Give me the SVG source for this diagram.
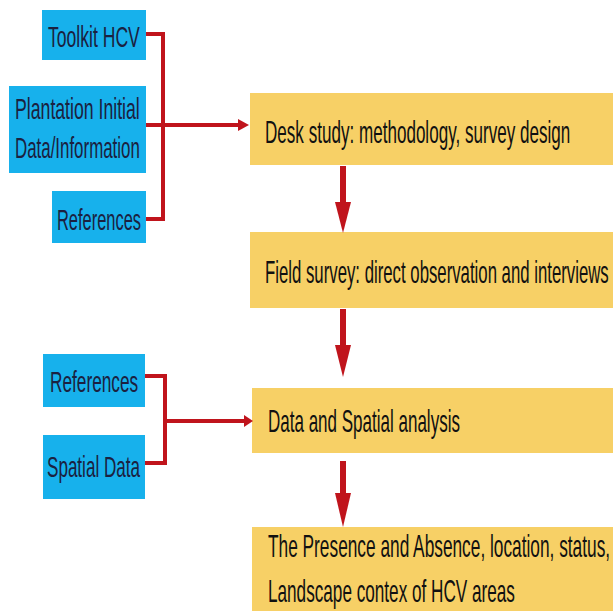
<svg xmlns="http://www.w3.org/2000/svg" width="613" height="611" viewBox="0 0 613 611">
<style>
.in{fill:#17b1ec}
.st{fill:#f7d066}
.tb{font-family:"Liberation Sans",Arial,sans-serif;font-size:29px;fill:#1b2140}
.ty{font-family:"Liberation Sans",Arial,sans-serif;font-size:31px;fill:#111}
.c{fill:none;stroke:#c0141c;stroke-width:4}
.d{fill:none;stroke:#c0141c;stroke-width:6}
.h{fill:#c0141c}
</style>
<rect width="613" height="611" fill="#ffffff"/>
<g id="toolkit"><rect class="in" x="42" y="10" width="104" height="50"/><g transform="translate(48,47) scale(0.6,1)"><text class="tb" x="0" y="0" textLength="153" lengthAdjust="spacingAndGlyphs">Toolkit HCV</text></g></g>
<g id="plantation"><rect class="in" x="9" y="86" width="137" height="87"/><g transform="translate(15,119) scale(0.6,1)"><text class="tb" x="0" y="0" textLength="208" lengthAdjust="spacingAndGlyphs">Plantation Initial</text></g><g transform="translate(15,158) scale(0.6,1)"><text class="tb" x="0" y="0" textLength="208" lengthAdjust="spacingAndGlyphs">Data/Information</text></g></g>
<g id="references1"><rect class="in" x="52" y="191" width="94" height="52"/><g transform="translate(57,230) scale(0.6,1)"><text class="tb" x="0" y="0" textLength="140" lengthAdjust="spacingAndGlyphs">References</text></g></g>
<g id="references2"><rect class="in" x="43" y="354" width="102" height="53"/><g transform="translate(50,392) scale(0.6,1)"><text class="tb" x="0" y="0" textLength="147" lengthAdjust="spacingAndGlyphs">References</text></g></g>
<g id="spatial"><rect class="in" x="43" y="435" width="102" height="64"/><g transform="translate(47,477) scale(0.6,1)"><text class="tb" x="0" y="0" textLength="155" lengthAdjust="spacingAndGlyphs">Spatial Data</text></g></g>
<g id="desk"><rect class="st" x="250" y="93" width="363" height="72"/><g transform="translate(265,143) scale(0.55,1)"><text class="ty" x="0" y="0" textLength="555" lengthAdjust="spacingAndGlyphs">Desk study: methodology, survey design</text></g></g>
<g id="field"><rect class="st" x="250" y="232" width="363" height="76"/><g transform="translate(265,283) scale(0.55,1)"><text class="ty" x="0" y="0" textLength="625" lengthAdjust="spacingAndGlyphs">Field survey: direct observation and interviews</text></g></g>
<g id="analysis"><rect class="st" x="252" y="388" width="361" height="65"/><g transform="translate(268,432) scale(0.55,1)"><text class="ty" x="0" y="0" textLength="349" lengthAdjust="spacingAndGlyphs">Data and Spatial analysis</text></g></g>
<g id="result"><rect class="st" x="252" y="527" width="361" height="84"/><g transform="translate(268,557) scale(0.55,1)"><text class="ty" x="0" y="0" textLength="622" lengthAdjust="spacingAndGlyphs">The Presence and Absence, location, status,</text></g><g transform="translate(268,602) scale(0.55,1)"><text class="ty" x="0" y="0" textLength="449" lengthAdjust="spacingAndGlyphs">Landscape contex of HCV areas</text></g></g>
<g id="connectors">
<path class="c" d="M146,34 H163 V219 H146"/>
<path class="c" d="M146,125 H239"/>
<path class="h" d="M238,119 L249,125 L238,131 Z"/>
<path class="c" d="M145,376 H165 V463 H145"/>
<path class="c" d="M165,421 H245"/>
<path class="h" d="M244,415 L253,421 L244,427 Z"/>
<path class="d" d="M343,166 V204"/>
<path class="h" d="M335,202 L351,202 L343,233 Z"/>
<path class="d" d="M343,309 V347"/>
<path class="h" d="M335,345 L351,345 L343,377 Z"/>
<path class="d" d="M343,461 V495"/>
<path class="h" d="M335,493 L351,493 L343,527 Z"/>
</g>
</svg>
